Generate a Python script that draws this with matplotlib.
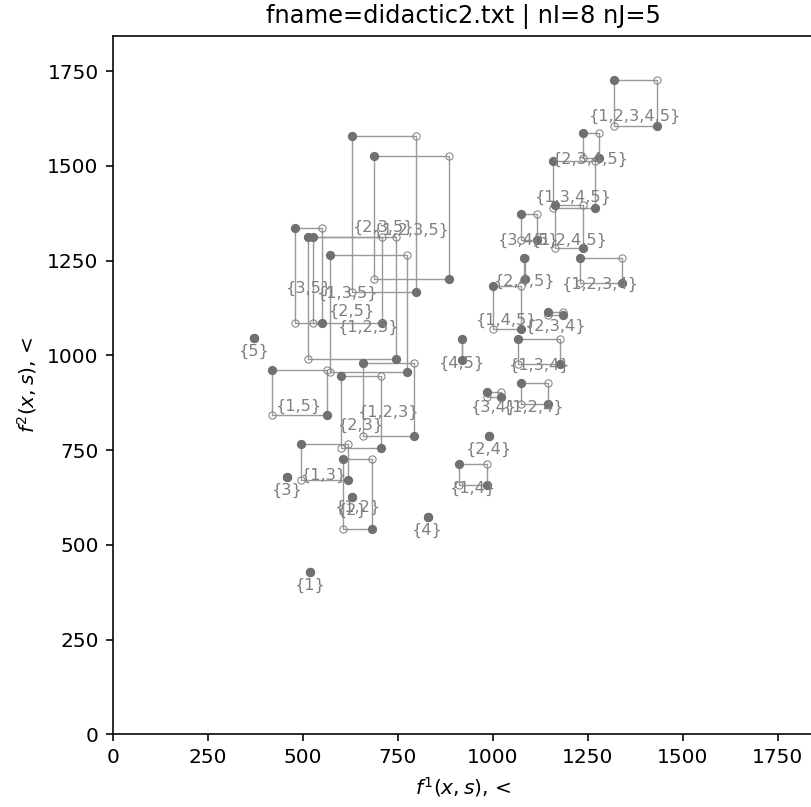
"""Subset boxes in the (f1, f2) plane."""
import numpy as np
import matplotlib
matplotlib.use('Agg')
import matplotlib.pyplot as plt

# subsets and the two corner points (upper-left a, lower-right b)
subsets = ['{1,2,3,4,5}', '{2,3,4,5}', '{1,3,4,5}', '{1,2,4,5}', '{3,4,5}',
           '{2,4,5}', '{1,2,3,4}', '{1,4,5}', '{2,3,4}', '{4,5}', '{1,3,4}',
           '{1,2,4}', '{3,4}', '{2,4}', '{1,4}', '{4}',
           '{2,3,5}', '{1,2,3,5}', '{3,5}', '{1,3,5}', '{2,5}', '{1,2,5}',
           '{1,2,3}', '{1,5}', '{2,3}', '{1,3}', '{1,2}', '{2}', '{3}',
           '{1}', '{5}']
xa = [1319, 1237, 1158, 1164, 1074, 1082, 1230, 1002, 1147, 919, 1068,
      1074, 985, 990, 912, 829,
      629, 688, 480, 528, 513, 573, 658, 420, 601, 495, 607, 630, 459,
      519, 373]
ya = [1727, 1587, 1514, 1396, 1373, 1258, 1256, 1184, 1115, 1043, 1042,
      926, 903, 787, 713, 573,
      1579, 1527, 1337, 1313, 1312, 1266, 981, 961, 946, 767, 726, 627, 678,
      429, 1045]
xb = [1432, 1279, 1269, 1238, 1116, 1085, 1340, 1074, 1186, 919, 1178,
      1145, 1022, 990, 984, 829,
      798, 886, 552, 710, 745, 774, 794, 563, 706, 618, 682, 630, 459,
      519, 373]
yb = [1604, 1520, 1390, 1284, 1305, 1202, 1190, 1070, 1107, 988, 977,
      871, 891, 787, 658, 573,
      1168, 1202, 1086, 1086, 991, 955, 788, 842, 755, 670, 542, 627, 678,
      429, 1045]

DPI = 145
fig = plt.figure(figsize=(811 / DPI, 807 / DPI), dpi=DPI)
ax = fig.add_axes([112.7 / 811, 72.7 / 807, 701 / 811, 698.8 / 807])

for k in range(len(subsets)):
    x1, y1, x2, y2 = xa[k], ya[k], xb[k], yb[k]
    if (x1, y1) != (x2, y2):
        ax.plot([x1, x2, x2], [y1, y1, y2], color='#999999', lw=0.7, zorder=1)
        ax.plot([x1, x1, x2], [y1, y2, y2], color='#999999', lw=0.7, zorder=1)
        ax.plot([x2, x1], [y1, y2], 'o', ms=3.6, mfc='none', mec='#808080',
                mew=0.5, ls='none', zorder=2)
    ax.plot([x1, x2], [y1, y2], 'o', ms=3.6, color='#707070', ls='none',
            zorder=3)
    ax.annotate(subsets[k], ((x1 + x2) / 2, (y1 + y2) / 2),
                xytext=(0, -6.7), textcoords='offset points',
                ha='center', va='center', fontsize=8, color='#808080',
                zorder=4)

ax.set_xlim(0, 1845)
ax.set_ylim(0, 1844)
ax.set_xticks(np.arange(0, 1751, 250))
ax.set_yticks(np.arange(0, 1751, 250))
ax.set_xlabel('$f^1(x,s)$, <')
ax.set_ylabel('$f^2(x,s)$, <')
ax.set_title('fname=didactic2.txt | nI=8 nJ=5')

fig.savefig('out.png', dpi=DPI)
